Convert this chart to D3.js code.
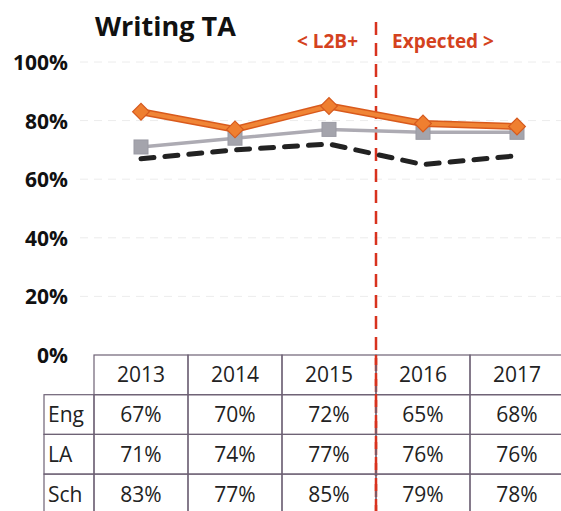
<!DOCTYPE html>
<html>
<head>
<meta charset="utf-8">
<script src="https://cdn.jsdelivr.net/npm/d3@7"></script>
<style>
  body { margin: 0; background: #fff; }
  svg { display: block; font-family: "Open Sans", sans-serif; }
</style>
</head>
<body>
<div class="canvas"></div>
<script>
// Data
const years = ['2013', '2014', '2015', '2016', '2017'];
const rowNames = ['Eng', 'LA', 'Sch'];
const eng = [67, 70, 72, 65, 68];
const la = [71, 74, 77, 76, 76];
const sch = [83, 77, 85, 79, 78];
const yTicks = [0, 20, 40, 60, 80, 100];

const dims = { width: 561, height: 511 };

const svg = d3.select('.canvas')
  .append('svg')
  .attr('width', dims.width)
  .attr('height', dims.height);

// scales
const x = d3.scaleBand()
  .domain(years)
  .range([94, 564]);
const xc = d => x(d) + x.bandwidth() / 2;

const y = d3.scaleLinear()
  .domain([0, 100])
  .range([355, 62]);

// faint grid lines
svg.append('g')
  .selectAll('line')
  .data(yTicks.filter(t => t > 0))
  .enter().append('line')
    .attr('x1', 80)
    .attr('x2', dims.width)
    .attr('y1', d => y(d))
    .attr('y2', d => y(d))
    .attr('stroke', '#ececec')
    .attr('stroke-width', 1)
    .attr('stroke-dasharray', '8,6');

// y axis labels
const yAxis = d3.axisLeft(y)
  .tickValues(yTicks)
  .tickSize(0)
  .tickPadding(0)
  .tickFormat(d => d + '%');

svg.append('g')
  .attr('transform', 'translate(68, 0)')
  .call(yAxis)
  .call(g => g.select('.domain').remove())
  .selectAll('text')
    .attr('font-family', '"Open Sans", sans-serif')
    .attr('font-size', 21)
    .attr('font-weight', 'bold')
    .attr('fill', '#111')
    .attr('dy', '0.36em');

// title
svg.append('text')
  .attr('x', 95)
  .attr('y', 36)
  .attr('font-size', 27)
  .attr('font-weight', 'bold')
  .attr('fill', '#111')
  .text('Writing TA');

// divider between L2B+ and Expected
const divX = x('2016');
svg.append('line')
  .attr('x1', divX)
  .attr('x2', divX)
  .attr('y1', 22)
  .attr('y2', dims.height)
  .attr('stroke', '#d8321e')
  .attr('stroke-width', 2.5)
  .attr('stroke-dasharray', '13,8');

svg.append('text')
  .attr('x', divX - 18)
  .attr('y', 48)
  .attr('text-anchor', 'end')
  .attr('font-size', 19)
  .attr('font-weight', 'bold')
  .attr('fill', '#d4421e')
  .text('< L2B+');

svg.append('text')
  .attr('x', divX + 16)
  .attr('y', 48)
  .attr('font-size', 19)
  .attr('font-weight', 'bold')
  .attr('fill', '#d4421e')
  .text('Expected >');

// lines
const line = d3.line()
  .x((d, i) => xc(years[i]))
  .y(d => y(d));

// Eng - black dashed
svg.append('path')
  .attr('d', line(eng))
  .attr('fill', 'none')
  .attr('stroke', '#222')
  .attr('stroke-width', 5)
  .attr('stroke-linecap', 'round')
  .attr('stroke-dasharray', '13,11');

// LA - grey with squares
svg.append('path')
  .attr('d', line(la))
  .attr('fill', 'none')
  .attr('stroke', '#adabb3')
  .attr('stroke-width', 3.5);

svg.append('g')
  .selectAll('rect')
  .data(la)
  .enter().append('rect')
    .attr('x', (d, i) => xc(years[i]) - 7)
    .attr('y', d => y(d) - 7)
    .attr('width', 14)
    .attr('height', 14)
    .attr('fill', '#a4a4ac')
    .attr('stroke', '#9a9aa3')
    .attr('stroke-width', 1);

// Sch - orange with diamonds
svg.append('path')
  .attr('d', line(sch))
  .attr('fill', 'none')
  .attr('stroke', '#d95a1c')
  .attr('stroke-width', 7)
  .attr('stroke-linejoin', 'round');

svg.append('path')
  .attr('d', line(sch))
  .attr('fill', 'none')
  .attr('stroke', '#f08536')
  .attr('stroke-width', 4)
  .attr('stroke-linejoin', 'round');

const diamond = d3.symbol().type(d3.symbolSquare).size(140);
svg.append('g')
  .selectAll('path')
  .data(sch)
  .enter().append('path')
    .attr('d', diamond)
    .attr('transform', (d, i) => `translate(${xc(years[i])}, ${y(d)}) rotate(45)`)
    .attr('fill', '#ef7f30')
    .attr('stroke', '#d65a1e')
    .attr('stroke-width', 1.2);

// data table
const rowTop = 355;
const rowH = 39.7;
const labelX = 44;
const tableColor = '#6e6275';
const table = svg.append('g');
const series = [eng, la, sch];

// header cells
table.selectAll('rect.head')
  .data(years)
  .enter().append('rect')
    .attr('class', 'head')
    .attr('x', d => x(d))
    .attr('y', rowTop)
    .attr('width', x.bandwidth())
    .attr('height', rowH)
    .attr('fill', 'none')
    .attr('stroke', tableColor)
    .attr('stroke-width', 1.2);

table.selectAll('text.head')
  .data(years)
  .enter().append('text')
    .attr('class', 'head')
    .attr('x', d => xc(d))
    .attr('y', rowTop + rowH / 2)
    .attr('dy', '0.36em')
    .attr('text-anchor', 'middle')
    .attr('font-size', 21)
    .attr('fill', '#222')
    .text(d => d);

series.forEach((vals, r) => {
  const top = rowTop + rowH * (r + 1);
  table.append('rect')
    .attr('x', labelX)
    .attr('y', top)
    .attr('width', x(years[0]) - labelX)
    .attr('height', rowH)
    .attr('fill', 'none')
    .attr('stroke', tableColor)
    .attr('stroke-width', 1.2);

  table.append('text')
    .attr('x', labelX + 4)
    .attr('y', top + rowH / 2)
    .attr('dy', '0.36em')
    .attr('font-size', 21)
    .attr('fill', '#222')
    .text(rowNames[r]);

  vals.forEach((v, i) => {
    table.append('rect')
      .attr('x', x(years[i]))
      .attr('y', top)
      .attr('width', x.bandwidth())
      .attr('height', rowH)
      .attr('fill', 'none')
      .attr('stroke', tableColor)
      .attr('stroke-width', 1.2);

    table.append('text')
      .attr('x', xc(years[i]))
      .attr('y', top + rowH / 2)
      .attr('dy', '0.36em')
      .attr('text-anchor', 'middle')
      .attr('font-size', 21)
      .attr('fill', '#222')
      .text(v + '%');
  });
});

// redraw divider over the table borders
table.append('line')
  .attr('x1', divX)
  .attr('x2', divX)
  .attr('y1', rowTop)
  .attr('y2', dims.height)
  .attr('stroke', '#d8321e')
  .attr('stroke-width', 2.5)
  .attr('stroke-dasharray', '13,8')
  .attr('stroke-dashoffset', -((rowTop - 22) % 21));
</script>
</body>
</html>
